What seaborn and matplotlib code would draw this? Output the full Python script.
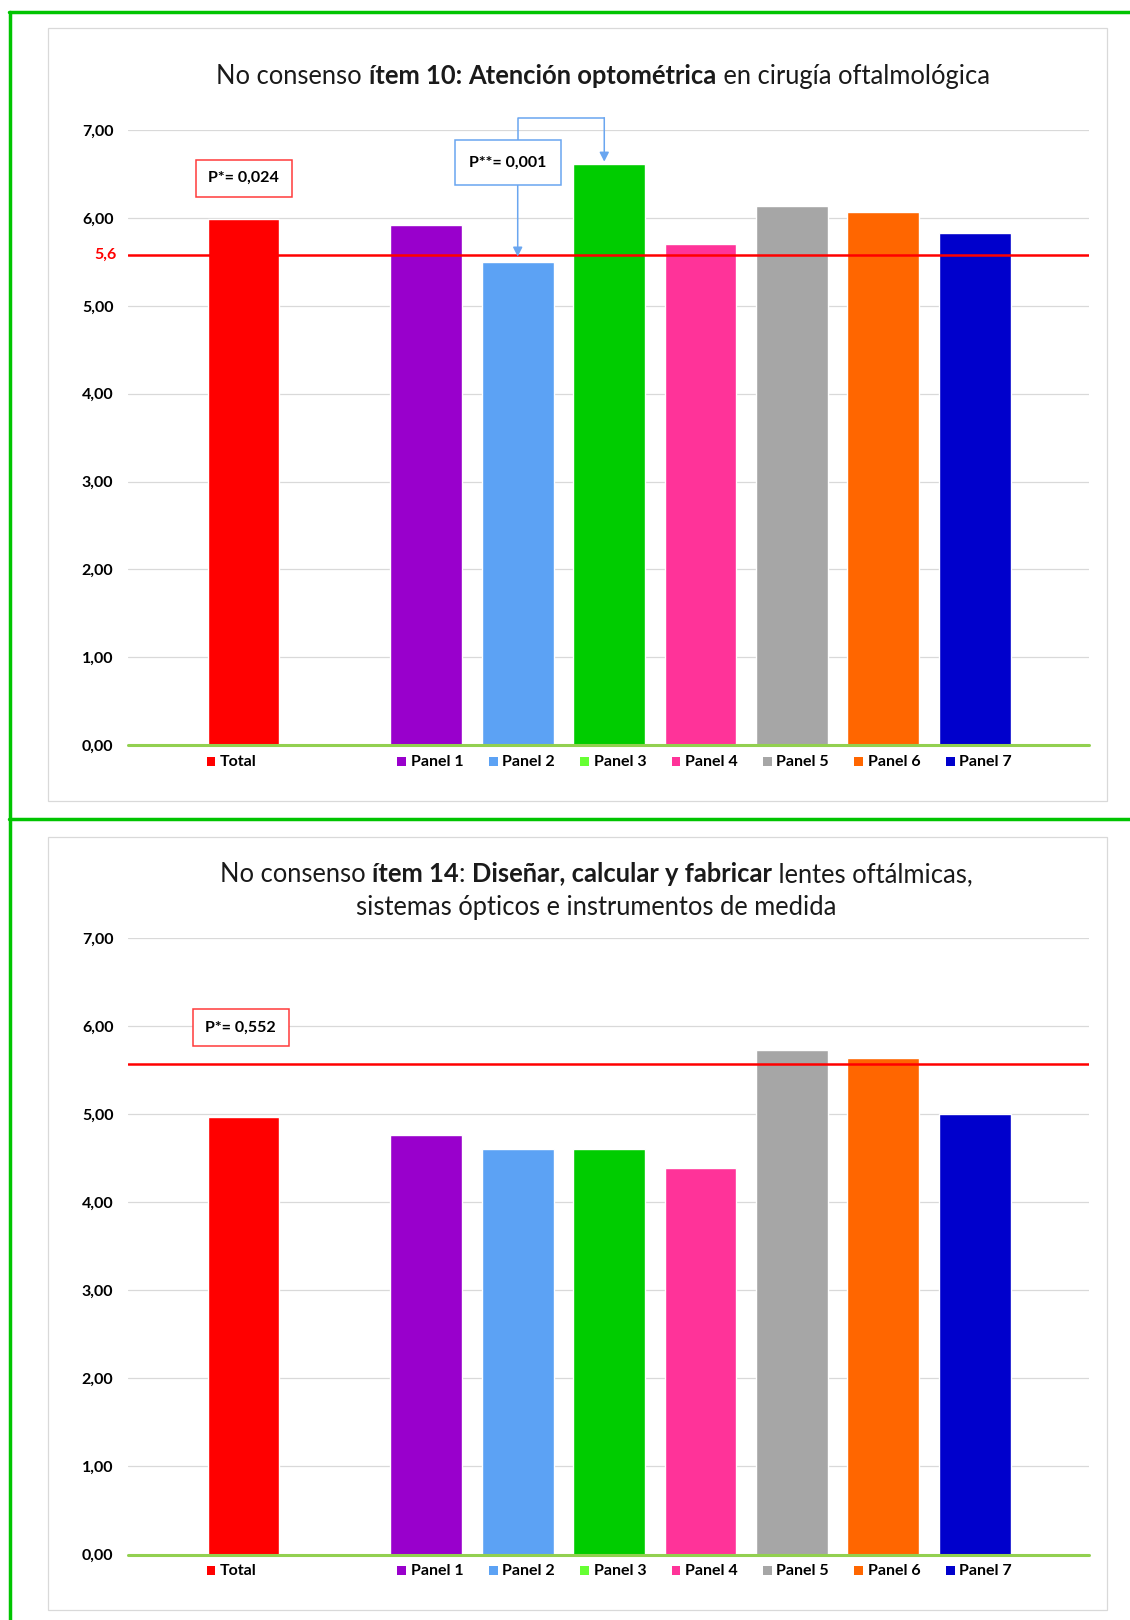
import numpy as np
import pandas as pd
import matplotlib
matplotlib.use("Agg")
import matplotlib.pyplot as plt
import matplotlib.transforms as mtransforms
from matplotlib.patches import Rectangle
from matplotlib.lines import Line2D
import seaborn as sns

# ---------------- data ----------------
categories = ["Total", " ", "Panel 1", "Panel 2", "Panel 3", "Panel 4", "Panel 5", "Panel 6", "Panel 7"]
item10_values = [5.99, np.nan, 5.92, 5.50, 6.61, 5.70, 6.13, 6.07, 5.83]
item14_values = [4.97, np.nan, 4.76, 4.61, 4.61, 4.39, 5.73, 5.64, 5.00]
reference_level = 5.575
reference_label = "5,6"
y_ticks = [0, 1, 2, 3, 4, 5, 6, 7]
y_tick_labels = ["0,00", "1,00", "2,00", "3,00", "4,00", "5,00", "6,00", "7,00"]
bar_colors = ["#FF0000", "#FFFFFF", "#9900CC", "#5CA2F4", "#00CC00", "#FF3399", "#A6A6A6", "#FF6600", "#0000CC"]
legend_colors = ["#FF0000", "#FFFFFF", "#9900CC", "#5CA2F4", "#66FF33", "#FF3399", "#A6A6A6", "#FF6600", "#0000CC"]
p_item10_total = "P*= 0,024"
p_item10_pair = "P**= 0,001"
p_item14_total = "P*= 0,552"

title10 = [("No consenso ", "normal"), ("ítem 10:", "bold"), (" ", "normal"),
           ("Atención optométrica", "bold"), (" en cirugía oftalmológica", "normal")]
title14_l1 = [("No consenso ", "normal"), ("ítem 14", "bold"), (": ", "normal"),
              ("Diseñar, calcular y fabricar", "bold"), (" lentes oftálmicas,", "normal")]
title14_l2 = [("sistemas ópticos e instrumentos de medida", "normal")]

# ---------------- style ----------------
sns.set_style("white")
plt.rcParams["font.family"] = ["Lato", "DejaVu Sans"]

W, H = 1130, 1620
fig = plt.figure(figsize=(W / 100, H / 100), dpi=100)
fig.patch.set_facecolor("white")


def fx(px):
    return px / W


def fy(py):
    return 1 - py / H


# outer green frame
frame_kw = dict(color="#00C400", lw=2.5, transform=fig.transFigure)
fig.add_artist(Line2D([fx(10.3), fx(10.3)], [fy(12), fy(1620)], **frame_kw))
fig.add_artist(Line2D([fx(9), fx(1130)], [fy(12), fy(12)], **frame_kw))
fig.add_artist(Line2D([fx(9), fx(1130)], [fy(819), fy(819)], **frame_kw))

# chart area borders
for top, bot in [(28, 801), (836.7, 1609.6)]:
    fig.add_artist(Rectangle((fx(48), fy(bot)), fx(1107) - fx(48), fy(top) - fy(bot),
                             transform=fig.transFigure, fill=False,
                             edgecolor="#D9D9D9", lw=0.9))

renderer = fig.canvas.get_renderer()


def seg_width(s, size, weight):
    t1 = fig.text(0, 0, "|" + s + "|", fontsize=size, fontweight=weight)
    t2 = fig.text(0, 0, "||", fontsize=size, fontweight=weight)
    w = t1.get_window_extent(renderer).width - t2.get_window_extent(renderer).width
    t1.remove()
    t2.remove()
    return w


def rich_title(segments, cx, baseline, size=18.4):
    widths = [seg_width(s, size, wgt) for s, wgt in segments]
    x = cx - sum(widths) / 2
    for (s, wgt), w in zip(segments, widths):
        fig.text(fx(x), fy(baseline), s, fontsize=size, fontweight=wgt,
                 ha="left", va="baseline", color="#1a1a1a")
        x += w


rich_title(title10, 603, 84)
rich_title(title14_l1, 596.5, 882)
rich_title(title14_l2, 596.5, 915)


def draw_chart(ax, values):
    df = pd.DataFrame({"cat": categories, "val": values}).dropna()
    sns.barplot(data=df, x="cat", y="val", hue="cat", order=categories,
                hue_order=categories, palette=dict(zip(categories, bar_colors)),
                width=0.787, errorbar=None, legend=False, saturation=1,
                ax=ax, zorder=2)
    ax.set_xlim(-1.264, 9.254)
    ax.set_ylim(0, 7)
    ax.set_yticks(y_ticks)
    ax.set_yticklabels(y_tick_labels, fontweight="bold", fontsize=11.5)
    ax.tick_params(axis="y", length=0, pad=10.5, colors="black")
    ax.tick_params(axis="x", length=0, labelbottom=False)
    ax.set_xlabel("")
    ax.set_ylabel("")
    for sp in ax.spines.values():
        sp.set_visible(False)
    ax.yaxis.grid(True, color="#D9D9D9", lw=0.9)
    ax.set_axisbelow(True)
    ax.axhline(0, color="#92D050", lw=2.2, zorder=3, clip_on=False)
    ax.axhline(reference_level, color="#FF0000", lw=1.8, zorder=4)

    # legend under each bar
    trans = mtransforms.blended_transform_factory(ax.transData, ax.transAxes)
    h_ax = 9 / (ax.get_position().height * H)
    y_leg = -16.4 / (ax.get_position().height * H)
    for i, (cat, col) in enumerate(zip(categories, legend_colors)):
        if not cat.strip():
            continue
        off = 0.405 if i == 0 else 0.317
        ax.add_patch(Rectangle((i - off, y_leg - h_ax / 2), 0.098, h_ax,
                               transform=trans, color=col, clip_on=False, lw=0))
        ax.text(i - off + 0.147, y_leg, cat, transform=trans, ha="left",
                va="center", fontsize=11.5, fontweight="bold", color="black")


def note_box(ax, x0, x1, y0, y1, text, edge):
    ax.add_patch(Rectangle((x0, y0), x1 - x0, y1 - y0, facecolor="white",
                           edgecolor=edge, lw=1.1, zorder=6, clip_on=False))
    ax.text((x0 + x1) / 2, (y0 + y1) / 2, text, ha="center", va="center",
            fontsize=11.5, fontweight="bold", color="black", zorder=7)


ax1 = fig.add_axes([fx(128), fy(745.3), fx(1089.3) - fx(128), fy(130) - fy(745.3)])
draw_chart(ax1, item10_values)
ax1.text(-0.0114, reference_level, reference_label,
         transform=mtransforms.blended_transform_factory(ax1.transAxes, ax1.transData),
         ha="right", va="center", color="#FF0000", fontsize=11.5, fontweight="bold")
note_box(ax1, -0.525, 0.525, 6.242, 6.664, p_item10_total, "#FF3B3B")

blue = "#6AA6F0"
ax1.plot([3, 3, 3.947], [6.883, 7.14, 7.14], color=blue, lw=1.1, clip_on=False, zorder=5)
arrow_kw = dict(arrowstyle="-|>,head_length=0.55,head_width=0.28", color=blue,
                lw=1.1, shrinkA=0, shrinkB=0)
ax1.annotate("", xy=(3.947, 6.64), xytext=(3.947, 7.14), arrowprops=arrow_kw,
             annotation_clip=False, zorder=5)
ax1.annotate("", xy=(3, 5.56), xytext=(3, 6.371), arrowprops=arrow_kw,
             annotation_clip=False, zorder=5)
note_box(ax1, 2.892 - 0.578, 2.892 + 0.578, 6.371, 6.883, p_item10_pair, blue)

ax2 = fig.add_axes([fx(128), fy(1554.5), fx(1089.3) - fx(128), fy(938.3) - fy(1554.5)])
draw_chart(ax2, item14_values)
note_box(ax2, -0.555, 0.495, 5.773, 6.193, p_item14_total, "#FF3B3B")

fig.savefig("out.png", dpi=100, facecolor="white")
